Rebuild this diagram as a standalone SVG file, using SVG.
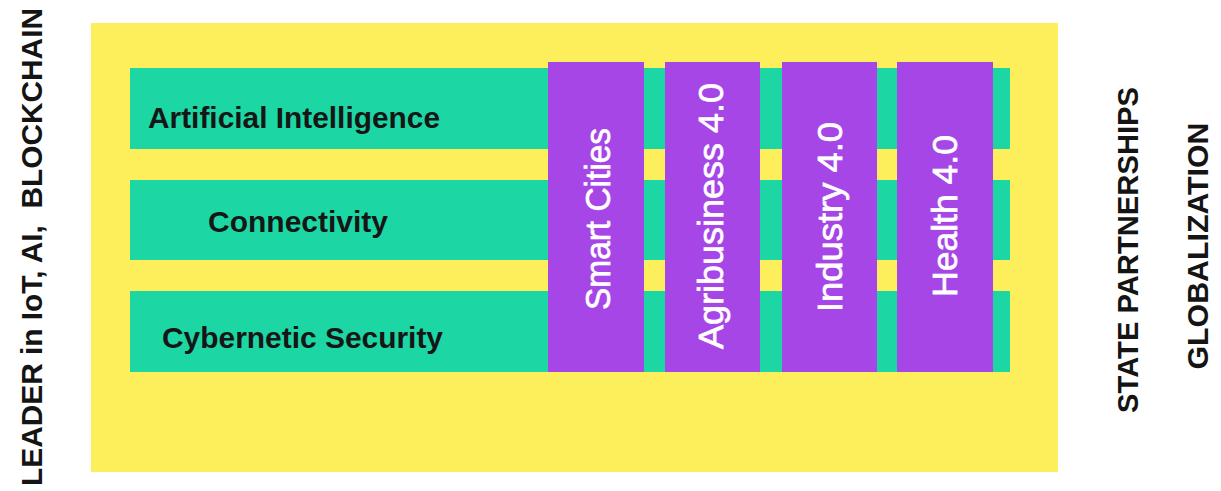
<svg xmlns="http://www.w3.org/2000/svg" width="1221" height="491" viewBox="0 0 1221 491">
<style>
.bg{fill:#ffffff}
.yellow{fill:#fdee5c}
.bar{fill:#1cd6a3}
.col{fill:#a646e6}
.h{font-family:"Liberation Sans",Arial,sans-serif;font-weight:bold;font-size:30px;fill:#161616}
.v{font-family:"Liberation Sans",Arial,sans-serif;font-size:35px;fill:#ffffff;stroke:#ffffff;stroke-width:0.7;text-anchor:middle}
.side{font-family:"Liberation Sans",Arial,sans-serif;font-weight:bold;font-size:29px;fill:#141414;text-anchor:middle;white-space:pre}
</style>
<rect class="bg" x="0" y="0" width="1221" height="491"/>
<g id="frame"><rect class="yellow" x="91" y="23" width="967" height="449"/></g>
<g id="bar-ai"><rect class="bar" x="130" y="68" width="880" height="81"/><text class="h" x="148" y="128" textLength="292" lengthAdjust="spacingAndGlyphs">Artificial Intelligence</text></g>
<g id="bar-conn"><rect class="bar" x="130" y="180" width="880" height="80"/><text class="h" x="208" y="232" textLength="180" lengthAdjust="spacingAndGlyphs">Connectivity</text></g>
<g id="bar-sec"><rect class="bar" x="130" y="291" width="880" height="81"/><text class="h" x="162" y="348" textLength="281" lengthAdjust="spacingAndGlyphs">Cybernetic Security</text></g>
<g id="col-smart"><rect class="col" x="548" y="62" width="96" height="310"/><text class="v" transform="translate(610,219) rotate(-90)" textLength="182" lengthAdjust="spacingAndGlyphs">Smart Cities</text></g>
<g id="col-agri"><rect class="col" x="665" y="62" width="95" height="310"/><text class="v" transform="translate(723,216) rotate(-90)" textLength="266" lengthAdjust="spacingAndGlyphs">Agribusiness 4.0</text></g>
<g id="col-ind"><rect class="col" x="782" y="62" width="95" height="310"/><text class="v" transform="translate(842,217) rotate(-90)" textLength="190" lengthAdjust="spacingAndGlyphs">Industry 4.0</text></g>
<g id="col-health"><rect class="col" x="897" y="62" width="96" height="310"/><text class="v" transform="translate(957,216) rotate(-90)" textLength="162" lengthAdjust="spacingAndGlyphs">Health 4.0</text></g>
<g id="label-leader"><text class="side" transform="translate(42,247) rotate(-90)" textLength="478" lengthAdjust="spacingAndGlyphs">LEADER in IoT, AI,  BLOCKCHAIN</text></g>
<g id="label-state"><text class="side" transform="translate(1138,250) rotate(-90)" textLength="326" lengthAdjust="spacingAndGlyphs">STATE PARTNERSHIPS</text></g>
<g id="label-glob"><text class="side" transform="translate(1208,246) rotate(-90)" textLength="247" lengthAdjust="spacingAndGlyphs">GLOBALIZATION</text></g>
</svg>
